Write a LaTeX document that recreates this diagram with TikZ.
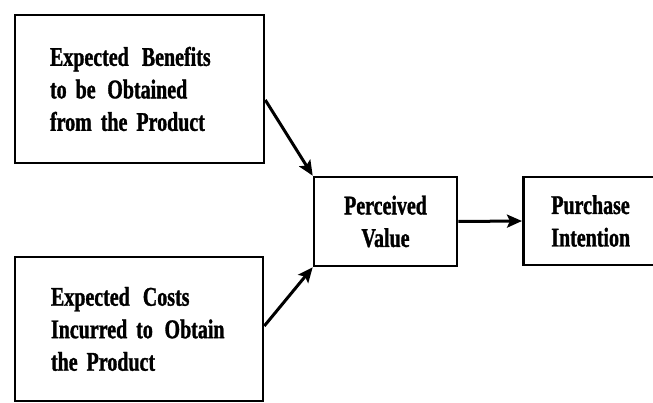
\documentclass[tikz,border=0pt]{standalone}
\usepackage{fontspec}
\newfontfamily\boxfont{Liberation Serif}[FakeStretch=0.74,BoldFeatures={FakeBold=1.2}]
\usetikzlibrary{arrows.meta}
\begin{document}
\begin{tikzpicture}[x=1pt,y=-1pt,
  boxstyle/.style={draw=black, line width=2.6pt, rectangle, inner ysep=0pt,
    font=\boxfont\bfseries\fontsize{27}{32.5}\selectfont},
  leftbox/.style={boxstyle, align=left, inner xsep=35pt, text width=179pt},
  flowarrow/.style={line width=3pt, -{Stealth[length=15pt,width=13pt,inset=3pt]}}
]
\useasboundingbox (0,0) rectangle (653,403);
\clip (0,0) rectangle (653,403);
\fill[white] (0,0) rectangle (653,403);

\node[leftbox, minimum height=148pt] (benefits) at (139.5,89)
  {Expected\hspace{0.15em} Benefits\\to be\hspace{0.1em} Obtained\\from the Product};
\node[leftbox, inner xsep=36pt, text width=176pt, minimum height=144pt] (costs) at (139,329)
  {Expected\hspace{0.15em} Costs\\Incurred to\hspace{0.1em} Obtain\\the Product};
\node[boxstyle, align=center, minimum width=143pt, minimum height=89pt] (value) at (385.5,221.5)
  {Perceived\\Value};
\node[boxstyle, align=left, inner xsep=28pt, text width=110pt, minimum height=88pt, anchor=west] (intention) at (522,221)
  {Purchase\\Intention};

\draw[flowarrow] ([yshift=-11pt]benefits.east) -- (value.north west);
\draw[flowarrow] ([yshift=3pt]costs.east) -- (value.south west);
\draw[flowarrow] (value.east) -- (intention.west);
\end{tikzpicture}
\end{document}
